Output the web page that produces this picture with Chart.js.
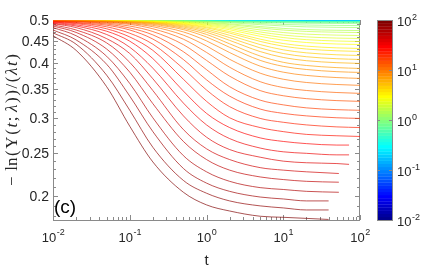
<!DOCTYPE html>
<html>
<head>
<meta charset="utf-8">
<script src="https://cdn.jsdelivr.net/npm/chart.js@4.4.1/dist/chart.umd.min.js"></script>
<style>
  html, body { margin: 0; padding: 0; background: #fff; }
</style>
</head>
<body>
<canvas id="chart" width="447" height="268"></canvas>
<script>
// Family of curves -ln(Y(t;lambda))/(lambda t), one curve per lambda step
// lambda from 1e2 (dark red, v00) down to 1e-2 (dark blue), 64 steps.

// time grids (t on log axis)
const tGrid = [0.01, 0.02, 0.05, 0.1, 0.2, 0.5, 1, 2, 5, 10, 20, 50, 100];
const tEnd39 = [0.01, 0.02, 0.05, 0.1, 0.2, 0.5, 1, 2, 5, 10, 20, 39];
const tEnd53 = [0.01, 0.02, 0.05, 0.1, 0.2, 0.5, 1, 2, 5, 10, 20, 53];
const tEnd72 = [0.01, 0.02, 0.05, 0.1, 0.2, 0.5, 1, 2, 5, 10, 20, 50, 72];
const tFlat = [0.01, 100];

// values, largest lambda first
const v00 = [0.462, 0.428, 0.354, 0.288, 0.239, 0.204, 0.191, 0.185, 0.180, 0.179, 0.178, 0.177];
const v01 = [0.469, 0.442, 0.376, 0.313, 0.258, 0.217, 0.203, 0.195, 0.190, 0.188, 0.186, 0.186];
const v02 = [0.476, 0.452, 0.398, 0.337, 0.280, 0.231, 0.214, 0.205, 0.199, 0.197, 0.195, 0.195];
const v03 = [0.482, 0.462, 0.415, 0.360, 0.301, 0.247, 0.227, 0.216, 0.209, 0.207, 0.205, 0.204];
const v04 = [0.486, 0.470, 0.431, 0.382, 0.324, 0.266, 0.242, 0.229, 0.221, 0.218, 0.216, 0.215];
const v05 = [0.489, 0.476, 0.445, 0.402, 0.347, 0.283, 0.256, 0.242, 0.232, 0.229, 0.227, 0.225];
const v06 = [0.492, 0.482, 0.455, 0.421, 0.369, 0.304, 0.272, 0.255, 0.245, 0.240, 0.238, 0.237, 0.236];
const v07 = [0.493, 0.486, 0.465, 0.435, 0.390, 0.325, 0.290, 0.270, 0.257, 0.252, 0.250, 0.248, 0.248];
const v08 = [0.495, 0.489, 0.473, 0.449, 0.410, 0.346, 0.308, 0.286, 0.271, 0.266, 0.263, 0.261, 0.261];
const v09 = [0.496, 0.492, 0.479, 0.459, 0.428, 0.368, 0.328, 0.301, 0.286, 0.280, 0.276, 0.274, 0.273];
const v10 = [0.497, 0.494, 0.484, 0.468, 0.442, 0.389, 0.348, 0.319, 0.300, 0.294, 0.290, 0.287, 0.286];
const v11 = [0.498, 0.495, 0.488, 0.476, 0.454, 0.408, 0.367, 0.337, 0.315, 0.308, 0.304, 0.301, 0.300];
const v12 = [0.498, 0.497, 0.491, 0.481, 0.464, 0.425, 0.387, 0.354, 0.330, 0.322, 0.317, 0.314, 0.313];
const v13 = [0.4988, 0.4974, 0.4933, 0.4859, 0.4722, 0.4409, 0.4062, 0.3741, 0.3469, 0.3377, 0.3326, 0.3292, 0.3279];
const v14 = [0.4992, 0.4981, 0.4951, 0.4901, 0.4791, 0.4537, 0.4234, 0.3919, 0.3634, 0.3525, 0.3471, 0.3434, 0.3419];
const v15 = [0.4993, 0.4986, 0.4962, 0.4923, 0.4842, 0.4634, 0.4380, 0.4085, 0.3799, 0.3681, 0.3619, 0.3581, 0.3565];
const v16 = [0.4995, 0.4989, 0.4971, 0.4940, 0.4876, 0.4712, 0.4497, 0.4231, 0.3941, 0.3819, 0.3755, 0.3713, 0.3697];
const v17 = [0.4996, 0.4992, 0.4978, 0.4954, 0.4902, 0.4769, 0.4589, 0.4348, 0.4062, 0.3937, 0.3873, 0.3829, 0.3814];
const v18 = [0.4996, 0.4993, 0.4981, 0.4962, 0.4921, 0.4803, 0.4651, 0.4429, 0.4155, 0.4021, 0.3955, 0.3911, 0.3894];
const v19 = [0.4997, 0.4995, 0.4984, 0.4968, 0.4936, 0.4834, 0.4703, 0.4509, 0.4253, 0.4124, 0.4055, 0.4013, 0.3997];
const v20 = [0.4997, 0.4995, 0.4987, 0.4973, 0.4946, 0.4859, 0.4745, 0.4574, 0.4335, 0.4210, 0.4140, 0.4097, 0.4081];
const v21 = [0.4998, 0.4996, 0.4989, 0.4977, 0.4954, 0.4881, 0.4781, 0.4630, 0.4411, 0.4292, 0.4225, 0.4182, 0.4167];
const v22 = [0.4998, 0.4997, 0.4991, 0.4981, 0.4961, 0.4900, 0.4815, 0.4684, 0.4485, 0.4374, 0.4310, 0.4270, 0.4255];
const v23 = [0.4998, 0.4997, 0.4992, 0.4983, 0.4966, 0.4914, 0.4838, 0.4721, 0.4538, 0.4435, 0.4375, 0.4336, 0.4322];
const v24 = [0.4999, 0.4997, 0.4994, 0.4986, 0.4972, 0.4929, 0.4865, 0.4766, 0.4605, 0.4514, 0.4459, 0.4424, 0.4412];
const v25 = [0.4999, 0.4998, 0.4995, 0.4989, 0.4977, 0.4940, 0.4886, 0.4801, 0.4659, 0.4576, 0.4526, 0.4494, 0.4482];
const v26 = [0.4999, 0.4998, 0.4996, 0.4991, 0.4981, 0.4950, 0.4906, 0.4834, 0.4711, 0.4636, 0.4592, 0.4563, 0.4553];
const v27 = [0.4999, 0.4999, 0.4997, 0.4993, 0.4985, 0.4960, 0.4925, 0.4865, 0.4762, 0.4697, 0.4658, 0.4634, 0.4624];
const v28 = [0.5, 0.4999, 0.4997, 0.4994, 0.4988, 0.4969, 0.4941, 0.4895, 0.4812, 0.4758, 0.4725, 0.4705, 0.4697];
const v29 = [0.5, 0.4999, 0.4998, 0.4995, 0.4991, 0.4975, 0.4952, 0.4916, 0.4846, 0.4800, 0.4770, 0.4753, 0.4746];
const v30 = [0.5, 0.4999, 0.4999, 0.4997, 0.4994, 0.4983, 0.4967, 0.4943, 0.4894, 0.4861, 0.4839, 0.4826, 0.4821];
const v31 = [0.5, 0.5, 0.4999, 0.4998, 0.4994, 0.4986, 0.4977, 0.4960, 0.4925, 0.4901, 0.4885, 0.4875, 0.4871];
const v32 = [0.5, 0.5, 0.4999, 0.4998, 0.4995, 0.4988, 0.4980, 0.4970, 0.4955, 0.4940, 0.4930, 0.4924, 0.4922];
const v33 = [0.5, 0.5, 0.4999, 0.4998, 0.4995, 0.4988, 0.4980, 0.4972, 0.4964, 0.4960, 0.4957, 0.4956, 0.4955];
const v34 = [0.5, 0.5, 0.4999, 0.4998, 0.4995, 0.4989, 0.4981, 0.4973, 0.4967, 0.4964, 0.4963, 0.4962, 0.4962];
const v35 = [0.5, 0.5, 0.4999, 0.4999, 0.4996, 0.4990, 0.4983, 0.4977, 0.4972, 0.4970, 0.4968, 0.4967, 0.4967];
const v36 = [0.5, 0.5, 0.4999, 0.4999, 0.4997, 0.4991, 0.4985, 0.4980, 0.4975, 0.4972, 0.4971, 0.4971, 0.4971];
const v37 = [0.5, 0.5, 0.5, 0.4999, 0.4997, 0.4992, 0.4988, 0.4983, 0.4979, 0.4977, 0.4976, 0.4974, 0.4974];
const v38 = [0.5, 0.5, 0.5, 0.4999, 0.4997, 0.4994, 0.4989, 0.4985, 0.4982, 0.4980, 0.4979, 0.4977, 0.4977];
const v39 = [0.5, 0.5, 0.5, 0.4999, 0.4997, 0.4994, 0.4990, 0.4986, 0.4982, 0.4981, 0.4979, 0.4979, 0.4979];
const v40 = [0.5, 0.5, 0.5, 0.4999, 0.4998, 0.4995, 0.4991, 0.4987, 0.4984, 0.4983, 0.4981, 0.4981, 0.4981];
const v41 = [0.5, 0.5, 0.5, 0.5, 0.4998, 0.4995, 0.4992, 0.4989, 0.4986, 0.4984, 0.4983, 0.4983, 0.4983];
const v42 = [0.5, 0.5, 0.5, 0.5, 0.4998, 0.4996, 0.4993, 0.4990, 0.4987, 0.4985, 0.4984, 0.4984, 0.4984];
const v43 = [0.5, 0.5, 0.5, 0.5, 0.4999, 0.4996, 0.4993, 0.4990, 0.4988, 0.4986, 0.4985, 0.4985, 0.4985];
const v44 = [0.5, 0.5, 0.5, 0.5, 0.4999, 0.4996, 0.4994, 0.4991, 0.4989, 0.4987, 0.4986, 0.4986, 0.4986];
const v45 = [0.5, 0.5, 0.5, 0.5, 0.4999, 0.4997, 0.4994, 0.4991, 0.4989, 0.4988, 0.4987, 0.4987, 0.4987];
const v46 = [0.5, 0.5, 0.5, 0.5, 0.4999, 0.4997, 0.4995, 0.4992, 0.4990, 0.4989, 0.4988, 0.4988, 0.4988];
const v47 = [0.5, 0.5, 0.5, 0.5, 0.4999, 0.4997, 0.4995, 0.4992, 0.4990, 0.4989, 0.4989, 0.4989, 0.4989];
const vFlat = [0.5, 0.5]; // smallest lambdas: stays at 1/2

const curves = [v00, v01, v02, v03, v04, v05, v06, v07, v08, v09, v10, v11, v12,
  v13, v14, v15, v16, v17, v18, v19, v20, v21, v22, v23, v24, v25, v26, v27,
  v28, v29, v30, v31, v32, v33, v34, v35, v36, v37, v38, v39, v40, v41, v42,
  v43, v44, v45, v46, v47];
const curveTimes = [tEnd39, tEnd39, tEnd39, tEnd53, tEnd53, tEnd53, tEnd72, tEnd72, tEnd72];
const nCurves = 64;

// axis ticks
const xTicks = [0.01, 0.1, 1, 10, 100];
const xTickExp = ['-2', '-1', '0', '1', '2'];
const yTicks = [0.2, 0.25, 0.3, 0.35, 0.4, 0.45, 0.5];
const yTickLabels = ['0.2', '0.25', '0.3', '0.35', '0.4', '0.45', '0.5'];
const cbTicks = [0.01, 0.1, 1, 10, 100];
const cbTickExp = ['-2', '-1', '0', '1', '2'];

// 64 step jet colormap, i = 1..64
function jetRGB(i) {
  const c = v => Math.round(255 * Math.max(0, Math.min(1, v)));
  const r = Math.min((i - 24) / 16, (72 - i) / 16);
  const g = Math.min((i - 8) / 16, (56 - i) / 16);
  const b = Math.min((i + 8) / 16, (40 - i) / 16);
  return [c(r), c(g), c(b)];
}
const jet = (i, alpha = 1) => `rgba(${jetRGB(i).join(',')},${alpha})`;

const datasets = [];
for (let j = 0; j < nCurves; j++) {
  const vals = j < curves.length ? curves[j] : vFlat;
  const ts = j < curves.length ? (curveTimes[j] || tGrid) : tFlat;
  datasets.push({
    data: ts.map((t, i) => ({ x: t, y: vals[i] })),
    borderColor: jet(nCurves - j, 0.85),
    borderWidth: 0.8,
    pointRadius: 0,
    cubicInterpolationMode: 'monotone',
    fill: false
  });
}

const AXIS = '#8a8a8a';
const TEXT = '#262626';

function drawPow(ctx, exp, x, y, align) {
  // "10" with a raised exponent; y is the middle of the digits
  ctx.font = '13px "Liberation Sans", Arial, sans-serif';
  const wBase = ctx.measureText('10').width;
  ctx.font = '9px "Liberation Sans", Arial, sans-serif';
  const wExp = ctx.measureText(exp).width;
  let x0 = x;
  if (align === 'center') x0 = x - (wBase + wExp) / 2;
  ctx.textAlign = 'left';
  ctx.textBaseline = 'middle';
  ctx.font = '13px "Liberation Sans", Arial, sans-serif';
  ctx.fillText('10', x0, y);
  ctx.font = '9px "Liberation Sans", Arial, sans-serif';
  ctx.fillText(exp, x0 + wBase + 0.5, y - 5);
}

const decor = {
  id: 'decor',
  beforeDatasetsDraw(chart) {
    const { ctx, chartArea: a, scales } = chart;
    const sx = scales.x, sy = scales.y;
    ctx.save();
    ctx.strokeStyle = AXIS;
    ctx.lineWidth = 1;
    ctx.strokeRect(a.left + 0.5, a.top + 0.5, a.right - a.left - 1, a.bottom - a.top);
    ctx.beginPath();
    // x ticks, major and minor, bottom and top
    for (let e = -2; e <= 2; e++) {
      for (let m = 1; m <= 9; m++) {
        const v = m * Math.pow(10, e);
        if (v > 100.0001) break;
        const px = Math.round(sx.getPixelForValue(v)) + 0.5;
        const len = m === 1 ? 5 : 3;
        ctx.moveTo(px, a.bottom); ctx.lineTo(px, a.bottom - len);
        ctx.moveTo(px, a.top); ctx.lineTo(px, a.top + len);
      }
    }
    // y ticks every 0.01, major at the labels
    for (let k = 18; k <= 50; k++) {
      const v = k / 100;
      const py = Math.round(sy.getPixelForValue(v)) + 0.5;
      const len = k % 5 === 0 ? 5 : 3;
      ctx.moveTo(a.left, py); ctx.lineTo(a.left + len, py);
      ctx.moveTo(a.right, py); ctx.lineTo(a.right - len, py);
    }
    ctx.stroke();
    ctx.restore();
  },
  afterDraw(chart) {
    const { ctx, chartArea: a, scales } = chart;
    const sx = scales.x, sy = scales.y, cb = scales.cb;
    ctx.save();
    ctx.fillStyle = TEXT;

    // y tick labels
    ctx.font = '14px "Liberation Sans", Arial, sans-serif';
    ctx.textAlign = 'right';
    ctx.textBaseline = 'middle';
    yTicks.forEach((v, i) => {
      ctx.fillText(yTickLabels[i], a.left - 4, sy.getPixelForValue(v) + 1);
    });

    // x tick labels
    xTicks.forEach((v, i) => {
      drawPow(ctx, xTickExp[i], sx.getPixelForValue(v), a.bottom + 18, 'center');
    });

    // x title
    ctx.font = '15px "Liberation Sans", Arial, sans-serif';
    ctx.textAlign = 'center';
    ctx.textBaseline = 'alphabetic';
    ctx.fillText('t', (a.left + a.right) / 2, 265);

    // panel tag
    ctx.font = '19px "Liberation Sans", Arial, sans-serif';
    ctx.textAlign = 'left';
    ctx.fillStyle = '#000';
    ctx.fillText('(c)', a.left + 1, a.bottom - 7);

    // y title, rotated, upright and italic pieces spread to the label length
    const parts = [
      ['\u2212', '', 4], ['ln', '', 0], ['(', '', 0], ['\u03A5', '', 0], ['(', '', 0],
      ['t', 'italic ', 0], [';', '', 3], ['\u03BB', 'italic ', 0], [')', '', 0], [')', '', 0],
      ['/', '', 0], ['(', '', 0], ['\u03BB', 'italic ', 0], ['t', 'italic ', 0], [')', '', 0]
    ];
    const fam = '17px "Liberation Serif", "DejaVu Serif", serif';
    let natural = 0;
    parts.forEach(p => { ctx.font = p[1] + fam; natural += ctx.measureText(p[0]).width + p[2]; });
    const span = 132;
    const gap = Math.max(0, (span - natural) / (parts.length - 1));
    ctx.translate(17, (a.top + a.bottom) / 2);
    ctx.rotate(-Math.PI / 2);
    ctx.fillStyle = TEXT;
    let xx = -span / 2;
    parts.forEach(p => {
      ctx.font = p[1] + fam;
      ctx.fillText(p[0], xx, 0);
      xx += ctx.measureText(p[0]).width + p[2] + gap;
    });
    ctx.setTransform(1, 0, 0, 1, 0, 0);

    // colorbar
    const left = 377, right = 393;
    for (let k = 0; k < nCurves; k++) {
      const lo = Math.pow(10, -2 + 4 * k / nCurves);
      const hi = Math.pow(10, -2 + 4 * (k + 1) / nCurves);
      const y0 = cb.getPixelForValue(hi), y1 = cb.getPixelForValue(lo);
      ctx.fillStyle = jet(k + 1);
      ctx.fillRect(left, y0, right - left, y1 - y0 + 0.3);
    }
    ctx.strokeStyle = AXIS;
    ctx.lineWidth = 1;
    ctx.strokeRect(left + 0.5, a.top + 0.5, right - left - 1, a.bottom - a.top);
    ctx.beginPath();
    cbTicks.forEach(v => {
      const py = Math.round(cb.getPixelForValue(v)) + 0.5;
      ctx.moveTo(right - 1, py); ctx.lineTo(right - 4, py);
      ctx.moveTo(left, py); ctx.lineTo(left + 3, py);
    });
    ctx.stroke();
    ctx.fillStyle = TEXT;
    cbTicks.forEach((v, i) => {
      drawPow(ctx, cbTickExp[i], right + 4, cb.getPixelForValue(v) + 2.5, 'left');
    });
    ctx.restore();
  }
};

new Chart(document.getElementById('chart'), {
  type: 'line',
  data: { datasets },
  options: {
    responsive: false,
    animation: false,
    events: [],
    layout: { padding: { left: 53, right: 87, top: 20, bottom: 48 } },
    plugins: { legend: { display: false }, tooltip: { enabled: false } },
    scales: {
      x: { type: 'logarithmic', min: 0.01, max: 100, display: false },
      y: { type: 'logarithmic', min: 0.1765, max: 0.5015, display: false },
      cb: { type: 'logarithmic', min: 0.01, max: 100, display: false, position: 'right' }
    }
  },
  plugins: [decor]
});
</script>
</body>
</html>
